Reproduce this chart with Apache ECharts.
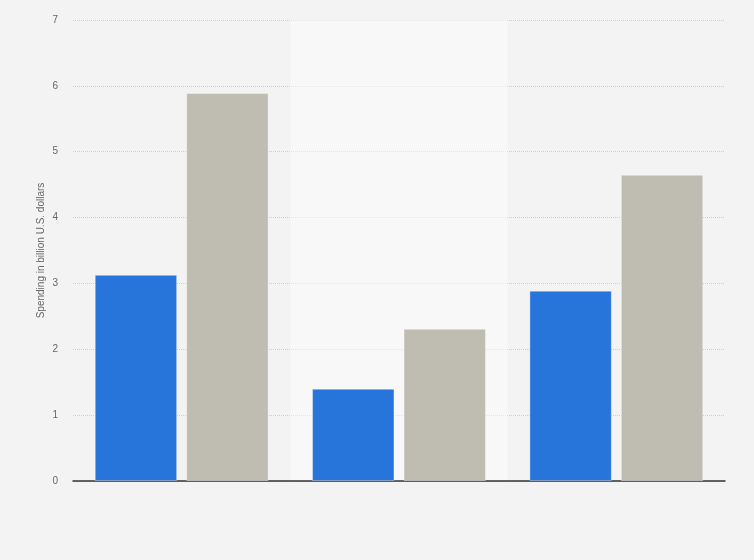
<!DOCTYPE html>
<html><head><meta charset="utf-8">
<script src="https://cdn.jsdelivr.net/npm/echarts@6/dist/echarts.min.js"></script>
<style>html,body{margin:0;padding:0;background:#f3f3f3}#c{width:754px;height:560px}</style>
</head><body><div id="c"></div>
<script>
const categories = ['Group A', 'Group B', 'Group C'];
const series1 = [3.13, 1.40, 2.89];
const series2 = [5.89, 2.31, 4.65];
const yTicks = [0, 1, 2, 3, 4, 5, 6, 7];

const chart = echarts.init(document.getElementById('c'));
chart.setOption({
  backgroundColor: '#f3f3f3',
  animation: false,
  grid: { left: 73, right: 29, top: 20, bottom: 79 },
  xAxis: {
    type: 'category',
    data: categories,
    axisLine: { show: true, lineStyle: { color: '#333', width: 1.5 } },
    axisTick: { show: false },
    axisLabel: { show: false },
    splitArea: { show: true, areaStyle: { color: ['rgba(0,0,0,0)', 'rgba(255,255,255,0.45)'] } }
  },
  yAxis: {
    type: 'value',
    min: yTicks[0], max: yTicks[yTicks.length - 1], interval: 1,
    name: 'Spending in billion U.S. dollars',
    nameLocation: 'middle',
    nameGap: 27,
    nameMoveOverlap: false,
    nameTextStyle: { color: '#666', fontSize: 10, fontFamily: 'Liberation Sans' },
    axisLine: { show: false },
    axisTick: { show: false },
    axisLabel: { color: '#666', fontSize: 10, margin: 15, fontFamily: 'Liberation Sans' },
    splitLine: { lineStyle: { color: '#cfcfcf', type: 'dotted', width: 1 } }
  },
  series: [
    { type: 'bar', data: series1, barGap: '11%', barCategoryGap: '20%',
      itemStyle: { color: '#2775db', borderColor: 'rgba(255,255,255,0.35)', borderWidth: 1 } },
    { type: 'bar', data: series2,
      itemStyle: { color: '#bfbdb1', borderColor: 'rgba(255,255,255,0.35)', borderWidth: 1 } }
  ]
});
</script></body></html>
